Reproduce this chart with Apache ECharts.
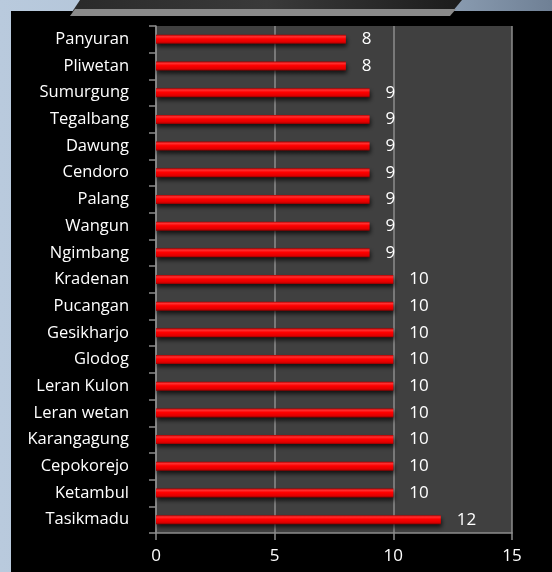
<!DOCTYPE html>
<html>
<head>
<meta charset="utf-8">
<script src="https://cdn.jsdelivr.net/npm/echarts@6/dist/echarts.min.js"></script>
<style>
  html, body { margin: 0; padding: 0; }
  body {
    width: 552px; height: 572px; overflow: hidden; position: relative;
    background: linear-gradient(to right, #b9cadd 0%, #aabdd2 60%, #6f8095 100%);
  }
  .panel { position: absolute; left: 11px; top: 11px; right: 0; bottom: 0; background: #000; }
  #chart { position: absolute; left: 0; top: 0; width: 552px; height: 572px; }
</style>
</head>
<body>
<div class="panel"></div>
<div id="chart"></div>
<script>
  const villages = ["Panyuran", "Pliwetan", "Sumurgung", "Tegalbang", "Dawung", "Cendoro",
    "Palang", "Wangun", "Ngimbang", "Kradenan", "Pucangan", "Gesikharjo", "Glodog",
    "Leran Kulon", "Leran wetan", "Karangagung", "Cepokorejo", "Ketambul", "Tasikmadu"];
  const counts = [8, 8, 9, 9, 9, 9, 9, 9, 9, 10, 10, 10, 10, 10, 10, 10, 10, 10, 12];
  const xTicks = [0, 5, 10, 15];

  let chart = echarts.init(document.getElementById("chart"));
  chart.setOption({
    backgroundColor: "transparent",
    animation: false,
    textStyle: { fontFamily: "Open Sans" },
    graphic: [
      {
        type: "polygon", z: 100,
        shape: { points: [[80, 0], [462, 0], [452, 12], [72, 12]] },
        style: {
          fill: new echarts.graphic.LinearGradient(0, 0, 1, 0, [
            { offset: 0, color: "#2a2a2a" },
            { offset: 0.5, color: "#3a3a3a" },
            { offset: 1, color: "#1c1c1c" }
          ])
        }
      },
      {
        type: "polygon", z: 100,
        shape: { points: [[75, 9], [456, 9], [450, 16], [70, 16]] },
        style: { fill: "#8a8a8a" }
      }
    ],
    grid: {
      left: 156, right: 40, top: 26, bottom: 39,
      show: true, backgroundColor: "#404040", borderWidth: 0
    },
    xAxis: {
      type: "value",
      min: xTicks[0], max: xTicks[xTicks.length - 1], interval: 5,
      axisLine: { show: true, lineStyle: { color: "#8c8c8c", width: 1.5 } },
      axisTick: { show: true, length: 7, lineStyle: { color: "#8c8c8c", width: 1.5 } },
      axisLabel: { color: "#fff", fontSize: 17, margin: 15 },
      splitLine: { show: true, lineStyle: { color: "#8c8c8c", width: 1.5 } }
    },
    yAxis: {
      type: "category",
      data: villages,
      inverse: true,
      axisLine: { show: true, lineStyle: { color: "#8c8c8c", width: 1.5 } },
      axisTick: { show: true, length: 7, lineStyle: { color: "#8c8c8c", width: 1.5 } },
      axisLabel: { color: "#fff", fontSize: 16.5, margin: 27 }
    },
    series: [{
      type: "bar",
      data: counts,
      barWidth: 9,
      itemStyle: {
        color: new echarts.graphic.LinearGradient(0, 0, 0, 1, [
          { offset: 0, color: "#b00000" },
          { offset: 0.2, color: "#ff3030" },
          { offset: 0.45, color: "#ff0000" },
          { offset: 0.8, color: "#e00000" },
          { offset: 1, color: "#900000" }
        ]),
        shadowBlur: 4,
        shadowColor: "rgba(0,0,0,0.7)",
        shadowOffsetY: 3,
        shadowOffsetX: 1
      },
      label: {
        show: true,
        position: "right",
        distance: 16,
        color: "#fff",
        fontSize: 17
      }
    }]
  });
</script>
</body>
</html>
